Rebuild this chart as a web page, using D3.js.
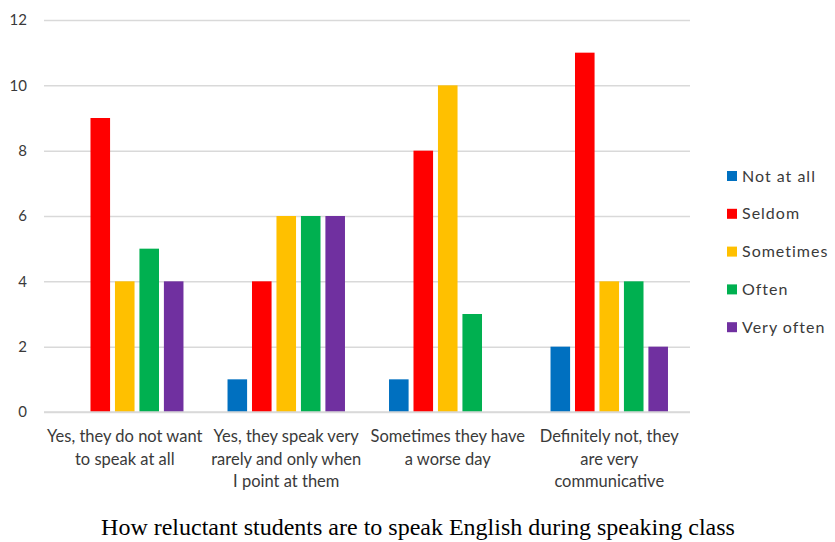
<!DOCTYPE html>
<html>
<head>
<meta charset="utf-8">
<script src="https://cdn.jsdelivr.net/npm/d3@7"></script>
<style>
  html, body { margin: 0; padding: 0; background: #fff; }
  svg { display: block; }
</style>
</head>
<body>
<svg id="chart" width="835" height="542"></svg>
<script>
// Survey answers per category, one value per frequency series
const categories = [
  ["Yes, they do not want", "to speak at all"],
  ["Yes, they speak very", "rarely and only when", "I point at them"],
  ["Sometimes they have", "a worse day"],
  ["Definitely not, they", "are very", "communicative"]
];
const seriesNames = ["Not at all", "Seldom", "Sometimes", "Often", "Very often"];
const seriesColors = ["#0070C0", "#FF0000", "#FFC000", "#00B050", "#7030A0"];
const notAtAll  = [0, 1, 1, 2];
const seldom    = [9, 4, 8, 11];
const sometimes = [4, 6, 10, 4];
const often     = [5, 6, 3, 4];
const veryOften = [4, 6, 0, 2];
const yTicks = [0, 2, 4, 6, 8, 10, 12];
const titleText = "How reluctant students are to speak English during speaking class";

const seriesValues = [notAtAll, seldom, sometimes, often, veryOften];
const svg = d3.select("#chart");

const plot = { left: 44, right: 690, top: 20, bottom: 412 };
const catIdx = categories.map((_, i) => i);
const labelFont = "Lato, 'Open Sans', sans-serif";
const labelColor = "#3a3a3a";

const x0 = d3.scaleBand().domain(catIdx).range([plot.left, plot.right]).padding(0);
const x1 = d3.scaleBand().domain(seriesNames).range([0, x0.bandwidth()])
  .paddingInner(0.2).paddingOuter(0.9);
const y = d3.scaleLinear().domain([0, 12]).range([plot.bottom, plot.top]);

// horizontal gridlines + y tick labels
const yAxis = d3.axisLeft(y).tickValues(yTicks).tickSize(-(plot.right - plot.left)).tickPadding(17);
const gy = svg.append("g").attr("transform", `translate(${plot.left},0)`).call(yAxis);
gy.select(".domain").remove();
gy.selectAll(".tick line").attr("stroke", "#d9d9d9").attr("stroke-width", 1.5);
gy.selectAll(".tick text")
  .attr("fill", labelColor)
  .style("font-family", labelFont)
  .style("font-size", "15px");

// bars
const groups = svg.append("g").selectAll("g")
  .data(catIdx).join("g")
  .attr("transform", i => `translate(${x0(i)},0)`);

groups.selectAll("rect")
  .data(i => seriesNames.map((name, s) => ({ name, s, v: seriesValues[s][i] })))
  .join("rect")
  .attr("x", d => x1(d.name))
  .attr("width", x1.bandwidth())
  .attr("y", d => y(d.v))
  .attr("height", d => y(0) - y(d.v))
  .attr("fill", d => seriesColors[d.s]);

// baseline
svg.append("line")
  .attr("x1", plot.left).attr("x2", plot.right)
  .attr("y1", y(0)).attr("y2", y(0))
  .attr("stroke", "#d9d9d9").attr("stroke-width", 1.5);

// category labels (multi-line)
const catLabels = svg.append("g").selectAll("text")
  .data(catIdx).join("text")
  .attr("x", i => x0(i) + x0.bandwidth() / 2)
  .attr("y", plot.bottom + 30)
  .attr("text-anchor", "middle")
  .attr("fill", labelColor)
  .style("font-family", labelFont)
  .style("font-size", "16.5px");
catLabels.selectAll("tspan")
  .data(i => categories[i].map(line => ({ line, i })))
  .join("tspan")
  .attr("x", d => x0(d.i) + x0.bandwidth() / 2)
  .attr("dy", (d, k) => k === 0 ? 0 : 22.5)
  .text(d => d.line);

// legend
const legend = svg.append("g").attr("transform", "translate(727,176)");
const items = legend.selectAll("g").data(seriesNames).join("g")
  .attr("transform", (d, k) => `translate(0,${k * 37.8})`);
items.append("rect")
  .attr("x", 0).attr("y", -5).attr("width", 10).attr("height", 10)
  .attr("fill", (d, k) => seriesColors[k]);
items.append("text")
  .attr("x", 15).attr("y", 0).attr("dy", "0.35em")
  .attr("fill", labelColor)
  .style("font-family", labelFont)
  .style("font-size", "16px")
  .style("letter-spacing", "1px")
  .text(d => d);

// caption
svg.append("text")
  .attr("x", 418).attr("y", 535)
  .attr("text-anchor", "middle")
  .attr("fill", "#000")
  .style("font-family", "'Liberation Serif', 'Times New Roman', serif")
  .style("font-size", "24px")
  .text(titleText);
</script>
</body>
</html>
